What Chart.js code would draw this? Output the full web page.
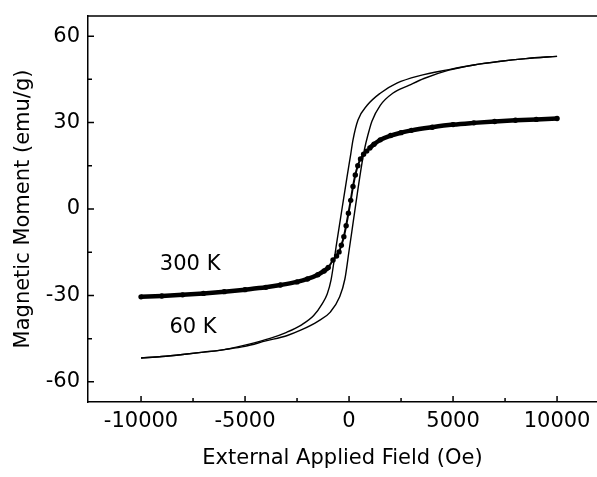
<!DOCTYPE html>
<html>
<head>
<meta charset="utf-8">
<script src="https://cdn.jsdelivr.net/npm/chart.js@4"></script>
<style>
  html, body { margin: 0; padding: 0; background: #fff; }
  canvas { display: block; }
</style>
</head>
<body>
<canvas id="hyst" width="597" height="477"></canvas>
<script>
// 60 K loop, ascending branch (field increasing)
const fieldUp60  = [-10000, -9000, -8000, -7000, -6000, -5000, -4000, -3000, -2300, -1500, -900, -450, -200, 0, 200, 400, 600, 750, 900, 1100, 1500, 2100, 2900, 3600, 4800, 6000, 7200, 8500, 10000];
const momentUp60 = [-51.7, -51.2, -50.5, -49.7, -48.8, -47.7, -45.8, -44.0, -42.0, -39.0, -35.8, -30.5, -24.3, -14.5, -4.5, 5.5, 15.0, 21.0, 25.5, 30.5, 36.0, 40.2, 43.0, 45.3, 48.2, 50.0, 51.2, 52.2, 53.0];

// 60 K loop, descending branch (kept in field order)
const fieldDown60  = [-10000, -9000, -8000, -7000, -6000, -4800, -3800, -3000, -2300, -1700, -1300, -1050, -865, -600, -340, -100, 80, 190, 430, 870, 1500, 2300, 3400, 4800, 6000, 7200, 8500, 10000];
const momentDown60 = [-51.7, -51.2, -50.5, -49.7, -48.8, -46.9, -44.9, -42.8, -40.3, -37.0, -33.0, -29.5, -24.6, -12.0, 0, 11.0, 19.0, 24.0, 30.9, 36.0, 40.2, 43.7, 46.3, 48.4, 50.0, 51.2, 52.2, 53.0];

// 300 K curve
const field300  = [-10000, -9000, -8000, -7000, -6000, -5000, -4000, -3300, -2500, -2000, -1500, -1200, -1000, -770, -600, -480, -370, -250, -140, -30, 80, 190, 300, 420, 550, 700, 850, 1000, 1200, 1500, 2000, 2500, 3000, 4000, 5000, 6000, 7000, 8000, 9000, 10000];
const moment300 = [-30.5, -30.2, -29.8, -29.3, -28.7, -28.0, -27.2, -26.4, -25.3, -24.3, -22.8, -21.5, -20.3, -17.7, -16.3, -14.9, -12.6, -9.6, -5.8, -1.5, 3.0, 7.8, 11.8, 15.0, 17.4, 19.0, 20.1, 21.2, 22.5, 24.0, 25.5, 26.5, 27.3, 28.4, 29.3, 29.9, 30.4, 30.8, 31.1, 31.4];

const xTicks = [-10000, -5000, 0, 5000, 10000];
const xMinor = [-7500, -2500, 2500, 7500];
const yTicks = [-60, -30, 0, 30, 60];
const yMinor = [-45, -15, 15, 45];

const FONT = 'DejaVu Sans';

function pts(xs, ys) {
    return xs.map((v, i) => ({ x: v, y: ys[i] }));
}

// tick marks point into the plot, plus the top frame line and curve labels
const frameTicks = {
    id: 'frameTicks',
    afterDraw(chart) {
        const { ctx, chartArea: a, scales: { x, y } } = chart;
        ctx.save();
        ctx.strokeStyle = '#000';
        ctx.lineWidth = 1.5;
        ctx.beginPath();
        ctx.moveTo(a.left, a.top);
        ctx.lineTo(a.right, a.top);
        xTicks.forEach(v => { const p = x.getPixelForValue(v); ctx.moveTo(p, a.bottom); ctx.lineTo(p, a.bottom - 6); });
        xMinor.forEach(v => { const p = x.getPixelForValue(v); ctx.moveTo(p, a.bottom); ctx.lineTo(p, a.bottom - 4); });
        yTicks.forEach(v => { const p = y.getPixelForValue(v); ctx.moveTo(a.left, p); ctx.lineTo(a.left + 6, p); });
        yMinor.forEach(v => { const p = y.getPixelForValue(v); ctx.moveTo(a.left, p); ctx.lineTo(a.left + 4, p); });
        ctx.stroke();

        ctx.fillStyle = '#000';
        ctx.font = '21px "' + FONT + '"';
        ctx.textAlign = 'center';
        ctx.textBaseline = 'middle';
        ctx.fillText('300 K', x.getPixelForValue(-7640), y.getPixelForValue(-19.4));
        ctx.fillText('60 K', x.getPixelForValue(-7500), y.getPixelForValue(-41.3));
        ctx.restore();
    }
};

// dense markers merge into a thick band on the flat parts; thinner where steep
function bandWidth(c) {
    const dx = Math.abs(c.p1.x - c.p0.x);
    const dy = Math.abs(c.p1.y - c.p0.y);
    return dy > dx ? 2 : 4.5;
}

const chart = new Chart(document.getElementById('hyst'), {
    type: 'scatter',
    data: {
        datasets: [
            {
                label: '60 K up',
                data: pts(fieldUp60, momentUp60),
                showLine: true,
                borderColor: '#000',
                borderWidth: 1.4,
                pointRadius: 0,
                cubicInterpolationMode: 'monotone'
            },
            {
                label: '60 K down',
                data: pts(fieldDown60, momentDown60),
                showLine: true,
                borderColor: '#000',
                borderWidth: 1.4,
                pointRadius: 0,
                cubicInterpolationMode: 'monotone'
            },
            {
                label: '300 K',
                data: pts(field300, moment300),
                showLine: true,
                borderColor: '#000',
                backgroundColor: '#000',
                borderWidth: 4.5,
                segment: { borderWidth: bandWidth },
                pointRadius: 2.7,
                pointBorderWidth: 0,
                cubicInterpolationMode: 'monotone'
            }
        ]
    },
    options: {
        responsive: false,
        animation: false,
        layout: { autoPadding: false, padding: { left: 0, right: 0, top: 16, bottom: 0 } },
        plugins: {
            legend: { display: false },
            tooltip: { enabled: false }
        },
        scales: {
            x: {
                type: 'linear',
                min: -12550,
                max: 11920,
                afterBuildTicks: s => { s.ticks = xTicks.map(v => ({ value: v })); },
                afterFit: s => { s.height = 75; s.paddingLeft = 0; s.paddingRight = 0; },
                grid: { drawOnChartArea: false, drawTicks: false },
                border: { display: true, color: '#000', width: 1.5 },
                ticks: {
                    color: '#000',
                    padding: 7,
                    maxRotation: 0,
                    callback: v => String(v),
                    font: { family: FONT, size: 21 }
                },
                title: {
                    display: true,
                    text: 'External Applied Field (Oe)',
                    color: '#000',
                    padding: { top: 0, bottom: 6 },
                    font: { family: FONT, size: 21 }
                }
            },
            y: {
                type: 'linear',
                min: -67,
                max: 67,
                afterBuildTicks: s => { s.ticks = yTicks.map(v => ({ value: v })); },
                afterFit: s => { s.width = 88; s.paddingTop = 0; s.paddingBottom = 0; },
                grid: { drawOnChartArea: false, drawTicks: false },
                border: { display: true, color: '#000', width: 1.5 },
                ticks: {
                    color: '#000',
                    padding: 8,
                    callback: v => String(v),
                    font: { family: FONT, size: 21 }
                },
                title: {
                    display: true,
                    text: 'Magnetic Moment (emu/g)',
                    color: '#000',
                    padding: { top: 11, bottom: 0 },
                    font: { family: FONT, size: 21 }
                }
            }
        }
    },
    plugins: [frameTicks]
});
</script>
</body>
</html>
